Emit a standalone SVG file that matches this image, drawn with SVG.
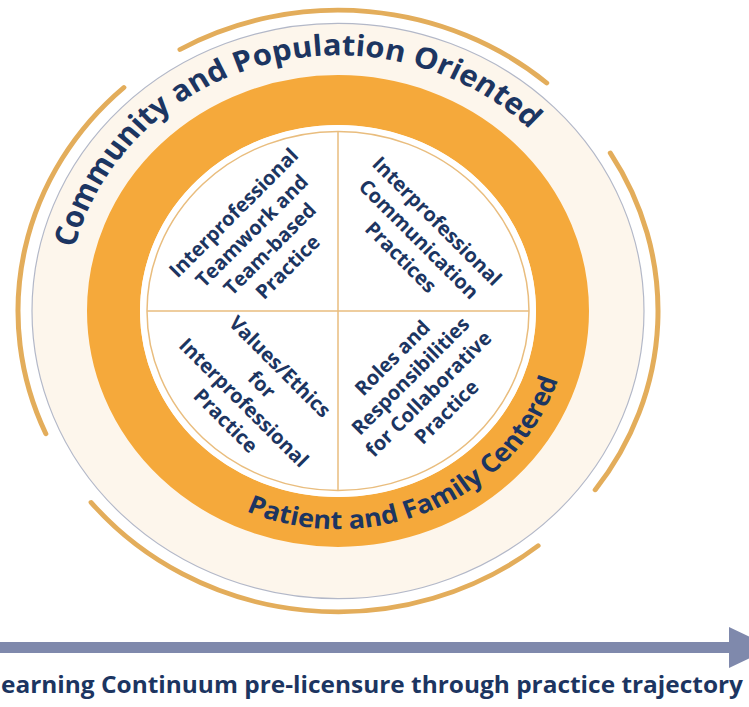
<svg xmlns="http://www.w3.org/2000/svg" width="749" height="707" viewBox="0 0 749 707">
<style>
.arc{fill:none;stroke:#e3ad5b;stroke-width:5;stroke-linecap:round}
.lbl{font-family:"Open Sans","Liberation Sans",sans-serif;font-weight:700;fill:#1c3561}
.q{font-size:20px;text-anchor:middle}
.div{stroke:#e9bd7e;stroke-width:1.5;fill:none}
</style>
<defs>
<path id="topPath" d="M -272 0 A 272 272 0 0 1 272 0"/>
<path id="botPath" d="M -232 0 A 232 232 0 0 0 232 0"/>
</defs>
<rect width="749" height="707" fill="#ffffff"/>
<g id="community-ring" transform="translate(338,311) scale(1,0.94)">
<circle r="306" fill="#fdf6ec" stroke="#b3b8c8" stroke-width="1.2"/>
<path class="arc" d="M -158 -278.2 A 320 320 0 0 1 208.7 -242.6"/>
<path class="arc" d="M 272.3 -168.2 A 320 320 0 0 1 257.2 190.3"/>
<path class="arc" d="M 200.1 249.7 A 320 320 0 0 1 -246.9 203.6"/>
<path class="arc" d="M -292.1 130.7 A 320 320 0 0 1 -214.1 -237.8"/>
<text class="lbl" font-size="31" text-anchor="middle"><textPath href="#topPath" startOffset="41.4%">Community and Population Oriented</textPath></text>
</g>
<g id="patient-ring" transform="translate(338,311) scale(1,0.94)">
<circle r="224.5" fill="none" stroke="#f5a93b" stroke-width="53"/>
<text class="lbl" font-size="27" text-anchor="middle"><textPath href="#botPath" startOffset="63.4%">Patient and Family Centered</textPath></text>
</g>
<g id="core" transform="translate(338,311) scale(1,0.94)">
<circle r="198" fill="#ffffff"/>
<circle r="191" class="div"/>
<line class="div" x1="0" y1="-191" x2="0" y2="191"/>
<line class="div" x1="-191" y1="0" x2="191" y2="0"/>
</g>
<g id="q-teamwork" class="lbl q" transform="translate(260.8,240) rotate(-45)">
<text y="-31.4">Interprofessional</text>
<text y="-5.9">Teamwork and</text>
<text y="19.6">Team-based</text>
<text y="45.1">Practice</text>
</g>
<g id="q-communication" class="lbl q" transform="translate(418.75,239.25) rotate(45)">
<text y="-18.7">Interprofessional</text>
<text y="6.8">Communication</text>
<text y="32.3">Practices</text>
</g>
<g id="q-values" class="lbl q" transform="translate(252.75,393.75) rotate(45)">
<text y="-31.4">Values/Ethics</text>
<text y="-5.9">for</text>
<text y="19.6">Interprofessional</text>
<text y="45.1">Practice</text>
</g>
<g id="q-roles" class="lbl q" transform="translate(419.5,385) rotate(-45)">
<text y="-31.4">Roles and</text>
<text y="-5.9">Responsibilities</text>
<text y="19.6">for Collaborative</text>
<text y="45.1">Practice</text>
</g>
<g id="connectors">
<path d="M -5 642 H 729 V 627 L 772 647.5 L 729 668 V 653 H -5 Z" fill="#7f89ac"/>
</g>
<g id="continuum-label">
<text class="lbl" x="1" y="693" font-size="23" textLength="742" lengthAdjust="spacingAndGlyphs">earning Continuum pre-licensure through practice trajectory</text>
</g>
</svg>
